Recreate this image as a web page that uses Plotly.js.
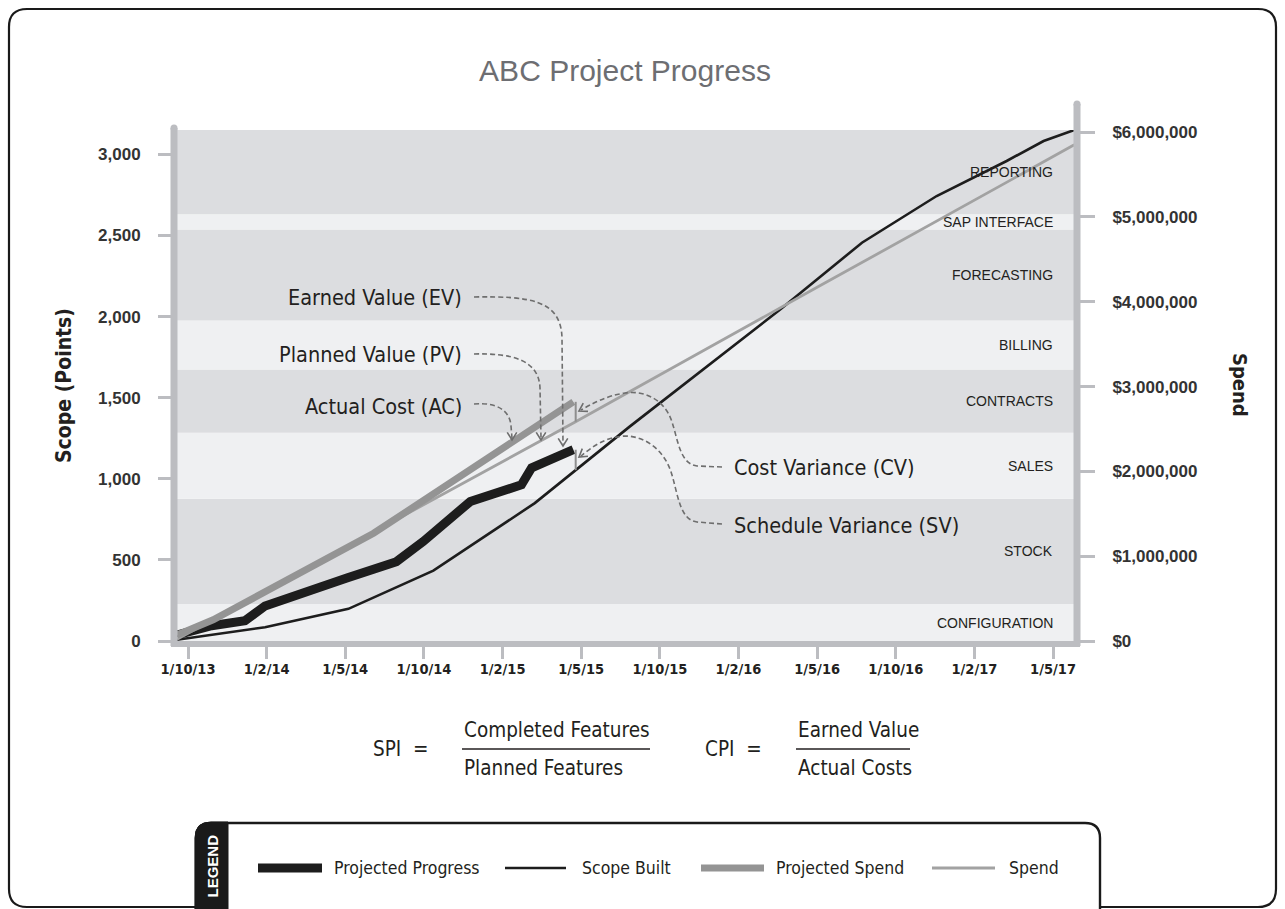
<!DOCTYPE html>
<html><head><meta charset="utf-8">
<script src="https://cdn.plot.ly/plotly-3.0.1.min.js"></script>
<style>html,body{margin:0;padding:0;background:#fff;} #chart{width:1285px;height:909px;}</style>
</head><body><div id="chart"></div>
<script>
// ---------- data ----------
const xTickLabels = ['1/10/13','1/2/14','1/5/14','1/10/14','1/2/15','1/5/15','1/10/15','1/2/16','1/5/16','1/10/16','1/2/17','1/5/17'];
const xTickVals = [0,1,2,3,4,5,6,7,8,9,10,11];

const progressX   = [-0.14, 0.30, 0.725, 0.98, 2.02, 2.65, 2.99, 3.59, 4.24, 4.37, 4.90];
const progressPts = [37, 94, 125, 216, 389, 489, 613, 860, 963, 1068, 1179];

const scopeX   = [-0.14, 0.98, 2.04, 3.12, 4.41, 5.62, 7.53, 8.57, 9.52, 10.41, 10.88, 11.27];
const scopePts = [8, 85, 198, 434, 850, 1323, 2043, 2455, 2743, 2959, 3082, 3150];

const projSpendX   = [-0.14, 0.32, 2.36, 4.90];
const projSpendUSD = [70000, 250000, 1270000, 2820000];

const spendX   = [-0.14, 4.90, 8.00, 11.27];
const spendUSD = [20000, 2570000, 4170000, 5850000];

const bandNames = ['CONFIGURATION','STOCK','SALES','CONTRACTS','BILLING','FORECASTING','SAP INTERFACE','REPORTING'];
const bandTops  = [228, 877, 1284, 1673, 1975, 2537, 2630, 3150];

const leftTicks  = [0, 500, 1000, 1500, 2000, 2500, 3000];
const rightTicks = [0, 1000000, 2000000, 3000000, 4000000, 5000000, 6000000];
const rightTickText = rightTicks.map(v => '$' + v.toLocaleString('en-US'));

// ---------- geometry helpers ----------
const L=174, R=1076, T=130, B=641, W=R-L, H=B-T;
const xRange=[-0.178, 11.292], yRange=[0, 3150], y2Range=[0, 6.025e6];
const fx = px => xRange[0] + (px-L)/W*(xRange[1]-xRange[0]);
const fy = py => (B-py)/H*yRange[1];
const gx = px => (px-L)/W;
const gy = py => (B-py)/H;
function path(cmds, data){
  return cmds.map(c=>{
    const k=c[0], n=c.slice(1), out=[];
    for(let i=0;i<n.length;i+=2){
      out.push((data?fx(n[i]):gx(n[i])).toFixed(5));
      out.push((data?fy(n[i+1]):gy(n[i+1])).toFixed(5));
    }
    return k+out.join(',');
  }).join(' ');
}
function head(tx,ty,fromx,fromy){
  const dx=tx-fromx, dy=ty-fromy, len=Math.hypot(dx,dy), ux=dx/len, uy=dy/len;
  const a=32*Math.PI/180, s=9;
  const r1x=ux*Math.cos(a)-uy*Math.sin(a), r1y=ux*Math.sin(a)+uy*Math.cos(a);
  const r2x=ux*Math.cos(-a)-uy*Math.sin(-a), r2y=ux*Math.sin(-a)+uy*Math.cos(-a);
  return path([['M',tx-r1x*s,ty-r1y*s],['L',tx,ty],['L',tx-r2x*s,ty-r2y*s]], true);
}
function interp(xs, ys, x){
  for(let i=0;i<xs.length-1;i++){
    if(x>=xs[i] && x<=xs[i+1]) return ys[i]+(ys[i+1]-ys[i])*(x-xs[i])/(xs[i+1]-xs[i]);
  }
  return ys[ys.length-1];
}

// ---------- styles ----------
const NARROW = "'Liberation Sans Narrow','Arial Narrow','DejaVu Sans Condensed',sans-serif";
const REG = "'Liberation Sans',Arial,sans-serif";
const INK = '#231f20';
const BAR = '#bcbdc1';
const BAND_DARK = '#dcdde0', BAND_LIGHT = '#eff0f2';
const sProgress = {color:'#1d1d1d', width:9};
const sScope    = {color:'#1d1d1d', width:2.6};
const sProjSp   = {color:'#949494', width:7};
const sSpend    = {color:'#a2a2a2', width:2.8};

// ---------- traces ----------
const traces = [
  {name:'Spend', x:spendX, y:spendUSD, yaxis:'y2', mode:'lines', line:sSpend, showlegend:false, hoverinfo:'skip'},
  {name:'Projected Spend', x:projSpendX, y:projSpendUSD, yaxis:'y2', mode:'lines', line:sProjSp, showlegend:false, hoverinfo:'skip'},
  {name:'Scope Built', x:scopeX, y:scopePts, mode:'lines', line:sScope, showlegend:false, hoverinfo:'skip'},
  {name:'Projected Progress', x:progressX, y:progressPts, mode:'lines', line:sProgress, showlegend:false, hoverinfo:'skip'}
];

// ---------- shapes ----------
const shapes = [];
bandNames.forEach((n,i)=>{
  shapes.push({type:'rect', xref:'paper', yref:'y', x0:0, x1:1, y0:i===0?0:bandTops[i-1], y1:bandTops[i],
    fillcolor: i%2===0?BAND_LIGHT:BAND_DARK, line:{width:0}, layer:'below'});
});
// axis bars
shapes.push({type:'line', xref:'paper', yref:'paper', x0:gx(174), x1:gx(174), y0:gy(646), y1:gy(128), line:{color:BAR, width:7}, layer:'above'});
shapes.push({type:'line', xref:'paper', yref:'paper', x0:gx(1077), x1:gx(1077), y0:gy(646), y1:gy(104), line:{color:BAR, width:7}, layer:'above'});
shapes.push({type:'line', xref:'paper', yref:'paper', x0:gx(171), x1:gx(1080), y0:gy(644), y1:gy(644), line:{color:BAR, width:6}, layer:'above'});
[[174,128],[1077,104]].forEach(p=>{
  shapes.push({type:'circle', xref:'paper', yref:'paper', x0:gx(p[0]-3.5), x1:gx(p[0]+3.5), y0:gy(p[1]-3.5), y1:gy(p[1]+3.5), fillcolor:BAR, line:{width:0}, layer:'above'});
});
// variance markers (computed from data)
const endX = progressX[progressX.length-1] + 0.03;
shapes.push({type:'line', xref:'x', yref:'y2', x0:endX, x1:endX, y0:projSpendUSD[projSpendUSD.length-1], y1:interp(spendX, spendUSD, endX), line:{color:'#8e8e8e', width:2}});
shapes.push({type:'line', xref:'x', yref:'y', x0:endX, x1:endX, y0:progressPts[progressPts.length-1], y1:interp(scopeX, scopePts, endX), line:{color:'#8e8e8e', width:2}});
// dashed callouts
const DASH = {color:'#6e6e6e', width:1.6, dash:'5px,3px'};
const HEAD = {color:'#6e6e6e', width:1.6};
const callouts = [
  {p:[['M',474,297],['C',530,296,561,300,562,338],['L',563,444]], tip:[563,446,563,420]},
  {p:[['M',474,354],['C',512,353,539,360,540,388],['L',541,438]], tip:[541,440,541,415]},
  {p:[['M',474,404],['C',496,402,510,410,511,426],['L',512,438]], tip:[512,440,512,415]},
  {p:[['M',722,467],['L',697,466],['C',680,464,678,440,672,422],['C',665,400,645,390,625,393],['C',605,396,592,404,581,410]], tip:[579,411,600,399]},
  {p:[['M',722,524],['L',697,522],['C',680,520,678,495,672,475],['C',665,450,645,436,625,436],['C',605,437,592,447,581,456]], tip:[579,457,602,440]}
];
callouts.forEach(c=>{
  shapes.push({type:'path', xref:'x', yref:'y', path:path(c.p, true), line:DASH});
  shapes.push({type:'path', xref:'x', yref:'y', path:head(c.tip[0],c.tip[1],c.tip[2],c.tip[3]), line:HEAD});
});
// outer frame
const fr=[9,9,1276,907], rr=18;
shapes.push({type:'path', xref:'paper', yref:'paper', line:{color:'#1a1a1a', width:2.2},
  path:path([['M',fr[0]+rr,fr[1]],['L',fr[2]-rr,fr[1]],['Q',fr[2],fr[1],fr[2],fr[1]+rr],['L',fr[2],fr[3]-rr],['Q',fr[2],fr[3],fr[2]-rr,fr[3]],
             ['L',fr[0]+rr,fr[3]],['Q',fr[0],fr[3],fr[0],fr[3]-rr],['L',fr[0],fr[1]+rr],['Q',fr[0],fr[1],fr[0]+rr,fr[1]],['Z']], false)});
// legend box
shapes.push({type:'path', xref:'paper', yref:'paper', fillcolor:'#ffffff', line:{color:'#1a1a1a', width:2.4},
  path:path([['M',196,915],['L',196,838],['Q',196,823,211,823],['L',1085,823],['Q',1100,823,1100,838],['L',1100,915]], false)});
shapes.push({type:'path', xref:'paper', yref:'paper', fillcolor:'#1a1a1a', line:{color:'#1a1a1a', width:1},
  path:path([['M',195,915],['L',195,838],['Q',195,822,211,822],['L',228,822],['L',228,915],['Z']], false)});
// legend samples
const legendItems = [
  {name:'Projected Progress', style:sProgress, x0:258, x1:322, tx:332},
  {name:'Scope Built', style:sScope, x0:505, x1:566, tx:580},
  {name:'Projected Spend', style:sProjSp, x0:701, x1:764, tx:774},
  {name:'Spend', style:sSpend, x0:932, x1:995, tx:1007}
];
legendItems.forEach(it=>{
  shapes.push({type:'line', xref:'paper', yref:'paper', x0:gx(it.x0), x1:gx(it.x1), y0:gy(868), y1:gy(868), line:{color:it.style.color, width:it.style.width}});
});
// formula bars
shapes.push({type:'line', xref:'paper', yref:'paper', x0:gx(462), x1:gx(650), y0:gy(749), y1:gy(749), line:{color:INK, width:1.6}});
shapes.push({type:'line', xref:'paper', yref:'paper', x0:gx(796), x1:gx(910), y0:gy(749), y1:gy(749), line:{color:INK, width:1.6}});

// ---------- annotations ----------
const ann = [];
bandNames.forEach((n,i)=>{
  const lo = i===0?0:bandTops[i-1];
  ann.push({text:n, xref:'paper', yref:'y', x:gx(1055), y:(lo+bandTops[i])/2, xanchor:'right', yanchor:'middle', showarrow:false,
    font:{family:REG, size:14, color:INK}});
});
const calloutFont = {family:NARROW, size:21.5, color:INK};
[['Earned Value (EV)',464,297,'right'],['Planned Value (PV)',464,354,'right'],['Actual Cost (AC)',464,406,'right'],
 ['Cost Variance (CV)',732,467,'left'],['Schedule Variance (SV)',732,525,'left']].forEach(a=>{
  ann.push({text:a[0], xref:'paper', yref:'paper', x:gx(a[1]), y:gy(a[2]), xanchor:a[3], yanchor:'middle', showarrow:false, font:calloutFont});
});
const fFont = {family:NARROW, size:20.5, color:INK};
[['SPI  =',400,749,'center'],['Completed Features',462,730,'left'],['Planned Features',462,768,'left'],
 ['CPI  =',733,749,'center'],['Earned Value',796,730,'left'],['Actual Costs',796,768,'left']].forEach(a=>{
  ann.push({text:a[0], xref:'paper', yref:'paper', x:gx(a[1]), y:gy(a[2]), xanchor:a[3], yanchor:'middle', showarrow:false, font:fFont});
});
legendItems.forEach(it=>{
  ann.push({text:it.name, xref:'paper', yref:'paper', x:gx(it.tx), y:gy(868), xanchor:'left', yanchor:'middle', showarrow:false,
    font:{family:NARROW, size:17.5, color:INK}});
});
ann.push({text:'LEGEND', xref:'paper', yref:'paper', x:gx(211.5), y:gy(866), textangle:-90, showarrow:false, xanchor:'center', yanchor:'middle',
  font:{family:REG, size:15, color:'#ffffff', weight:'bold'}});
ann.push({text:'Spend', xref:'paper', yref:'paper', x:gx(1240), y:gy(385), textangle:90, showarrow:false, xanchor:'center', yanchor:'middle',
  font:{family:NARROW, size:20, color:INK, weight:'bold'}});

// ---------- layout ----------
const layout = {
  width:1285, height:909,
  margin:{l:L, r:1285-R, t:T, b:909-B, pad:0},
  paper_bgcolor:'#ffffff', plot_bgcolor:'#ffffff',
  showlegend:false,
  title:{text:'ABC Project Progress', x:0.5, xref:'paper', y:1-70/909, yref:'container', xanchor:'center', yanchor:'middle',
    font:{family:REG, size:30, color:'#6d6e72'}},
  xaxis:{range:xRange, tickvals:xTickVals, ticktext:xTickLabels, showgrid:false, zeroline:false, showline:false,
    ticks:'outside', ticklen:17, tickwidth:3, tickcolor:BAR, ticklabelstandoff:-2,
    tickfont:{family:NARROW, size:14.5, color:INK, weight:'bold'}, fixedrange:true},
  yaxis:{range:yRange, tickvals:leftTicks, tickformat:',d', showgrid:false, zeroline:false, showline:false,
    ticks:'outside', ticklen:15, tickwidth:3, tickcolor:BAR, ticklabelstandoff:14,
    tickfont:{family:REG, size:17, color:'#333333', weight:'bold'},
    title:{text:'Scope (Points)', standoff:20, font:{family:NARROW, size:21, color:INK, weight:'bold'}}, fixedrange:true},
  yaxis2:{range:y2Range, overlaying:'y', side:'right', tickvals:rightTicks, ticktext:rightTickText, showgrid:false, zeroline:false, showline:false,
    ticks:'outside', ticklen:18, tickwidth:3, tickcolor:BAR, ticklabelstandoff:14,
    tickfont:{family:REG, size:17, color:'#333333', weight:'bold'}, fixedrange:true},
  shapes:shapes,
  annotations:ann
};

Plotly.newPlot('chart', traces, layout, {displayModeBar:false, staticPlot:true});
</script>
</body></html>
